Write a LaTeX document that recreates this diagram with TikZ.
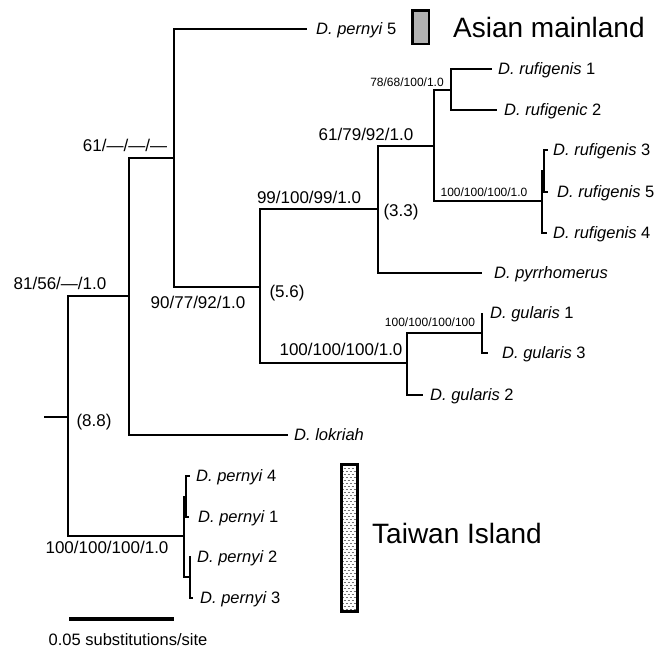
\documentclass[tikz,border=0pt]{standalone}
\usepackage{fontspec}
\setmainfont{Liberation Sans}
\begin{document}
\begin{tikzpicture}[x=1pt,y=-1pt]
\tikzset{
  branch/.style={line width=1.3pt},
  tip/.style={anchor=west, inner xsep=#1, inner ysep=0pt, text height=11.8pt, text depth=0pt,
              font=\fontsize{16.5}{19}\selectfont},
  tip/.default=7pt,
  support/.style={inner sep=0pt, text height=12.2pt, text depth=0pt, font=\fontsize{17}{20}\selectfont},
  smallsupport/.style={inner sep=0pt, text height=8.6pt, text depth=0pt, font=\fontsize{12}{14}\selectfont},
  region/.style={anchor=west, inner sep=0pt, text height=20pt, text depth=0pt, font=\fontsize{28}{32}\selectfont},
  dashrow/.style={gray!90!black, line width=0.8pt, dash pattern=on 2.5pt off 1.5pt},
}
\fill[white] (0,0) rectangle (672,649);
\useasboundingbox (0,0) rectangle (672,649);

% internal nodes of the tree
\coordinate (root)   at (44,417);
\coordinate (R)      at (68,417);
\coordinate (n81)    at (129,296);
\coordinate (n61)    at (174,158);
\coordinate (n90)    at (260,287);
\coordinate (n99)    at (378,209);
\coordinate (n6179)  at (434,146);
\coordinate (n78)    at (451,90);
\coordinate (nruf)   at (542,201);
\coordinate (nruf35) at (544,171);
\coordinate (ngul)   at (407,363);
\coordinate (ngul13) at (482,333);
\coordinate (nTW)    at (184,536);
\coordinate (nTW41)  at (186,497);
\coordinate (nTW23)  at (190,577);

% terminal taxa
\node[tip=9pt]  (p5)  at (307,29)  {\textit{D. pernyi} 5};
\node[tip=6pt]  (r1)  at (492,69)  {\textit{D. rufigenis} 1};
\node[tip=7pt]  (r2)  at (497,110) {\textit{D. rufigenic} 2};
\node[tip=5pt]  (r3)  at (548,150) {\textit{D. rufigenis} 3};
\node[tip=9pt]  (r5)  at (548,192) {\textit{D. rufigenis} 5};
\node[tip=6pt]  (r4)  at (547,233) {\textit{D. rufigenis} 4};
\node[tip=12pt] (pyr) at (482,273) {\textit{D. pyrrhomerus}};
\node[tip=8pt]  (g1)  at (482,313) {\textit{D. gularis} 1};
\node[tip=14pt] (g3)  at (488,353) {\textit{D. gularis} 3};
\node[tip=7pt]  (g2)  at (423,395) {\textit{D. gularis} 2};
\node[tip=6pt]  (lok) at (288,435) {\textit{D. lokriah}};
\node[tip=6pt]  (pn4) at (190,476) {\textit{D. pernyi} 4};
\node[tip=9pt]  (pn1) at (189,517) {\textit{D. pernyi} 1};
\node[tip=6pt]  (pn2) at (191,557) {\textit{D. pernyi} 2};
\node[tip=7pt]  (pn3) at (193,598) {\textit{D. pernyi} 3};

% branches
\draw[branch] (root) -- (R);
\draw[branch] (R) |- (n81);
\draw[branch] (R) |- (nTW);
\draw[branch] (n81) |- (n61);
\draw[branch] (n81) |- (lok.west);
\draw[branch] (n61) |- (p5.west);
\draw[branch] (n61) |- (n90);
\draw[branch] (n90) |- (n99);
\draw[branch] (n90) |- (ngul);
\draw[branch] (n99) |- (n6179);
\draw[branch] (n99) |- (pyr.west);
\draw[branch] (n6179) |- (n78);
\draw[branch] (n6179) |- (nruf);
\draw[branch] (n78) |- (r1.west);
\draw[branch] (n78) |- (r2.west);
\draw[branch] (nruf) |- (nruf35);
\draw[branch] (nruf) |- (r4.west);
\draw[branch] (nruf35) |- (r3.west);
\draw[branch] (nruf35) |- (r5.west);
\draw[branch] (ngul) |- (ngul13);
\draw[branch] (ngul) |- (g2.west);
\draw[branch] (ngul13) |- (g1.west);
\draw[branch] (ngul13) |- (g3.west);
\draw[branch] (nTW) |- (nTW41);
\draw[branch] (nTW) |- (nTW23);
\draw[branch] (nTW41) |- (pn4.west);
\draw[branch] (nTW41) |- (pn1.west);
\draw[branch] (nTW23) |- (pn2.west);
\draw[branch] (nTW23) |- (pn3.west);

% support values
\node[support]      (s81)    at (60,283)  {81/56/—/1.0};
\node[support]      (s61)    at (125,145) {61/—/—/—};
\node[support]      (s90)    at (198,302) {90/77/92/1.0};
\node[support]      (s99)    at (309,197) {99/100/99/1.0};
\node[support]      (s6179)  at (366,134) {61/79/92/1.0};
\node[smallsupport] (s78)    at (407,82)  {78/68/100/1.0};
\node[smallsupport] (sruf)   at (484,192) {100/100/100/1.0};
\node[support]      (sgul)   at (341,349) {100/100/100/1.0};
\node[smallsupport] (sgul13) at (430,322) {100/100/100/100};
\node[support]      (sTW)    at (107,547) {100/100/100/1.0};

% divergence ages
\node[support] (a33) at (401,210) {(3.3)};
\node[support] (a56) at (287,291) {(5.6)};
\node[support] (a88) at (94,420)  {(8.8)};

% scale bar
\coordinate (sb1) at (69,619);
\coordinate (sb2) at (174,619);
\draw[line width=4pt] (sb1) -- (sb2);
\node[inner sep=0pt, text height=11.8pt, text depth=0pt, font=\fontsize{16.5}{19}\selectfont]
  (sbt) at (128,640) {0.05 substitutions/site};

% region bars
\node[draw, line width=2.5pt, fill=gray!60, minimum width=16.5pt, minimum height=33.5pt, inner sep=0pt]
  (amBox) at (420.5,27) {};
\node[region] (amText) at (453,27) {Asian mainland};

\node[draw, line width=3pt, minimum width=16pt, minimum height=147pt, inner sep=0pt,
  path picture={
    \foreach \k in {0,2,...,50}
      \draw[dashrow] ([yshift=-\k*3pt-1pt]path picture bounding box.north west) -- ([yshift=-\k*3pt-1pt]path picture bounding box.north east);
    \foreach \k in {1,3,...,49}
      \draw[dashrow, dash phase=2pt] ([yshift=-\k*3pt-1pt]path picture bounding box.north west) -- ([yshift=-\k*3pt-1pt]path picture bounding box.north east);
  }]
  (twBox) at (349.5,538) {};
\node[region] (twText) at (372,533) {Taiwan Island};
\end{tikzpicture}
\end{document}
